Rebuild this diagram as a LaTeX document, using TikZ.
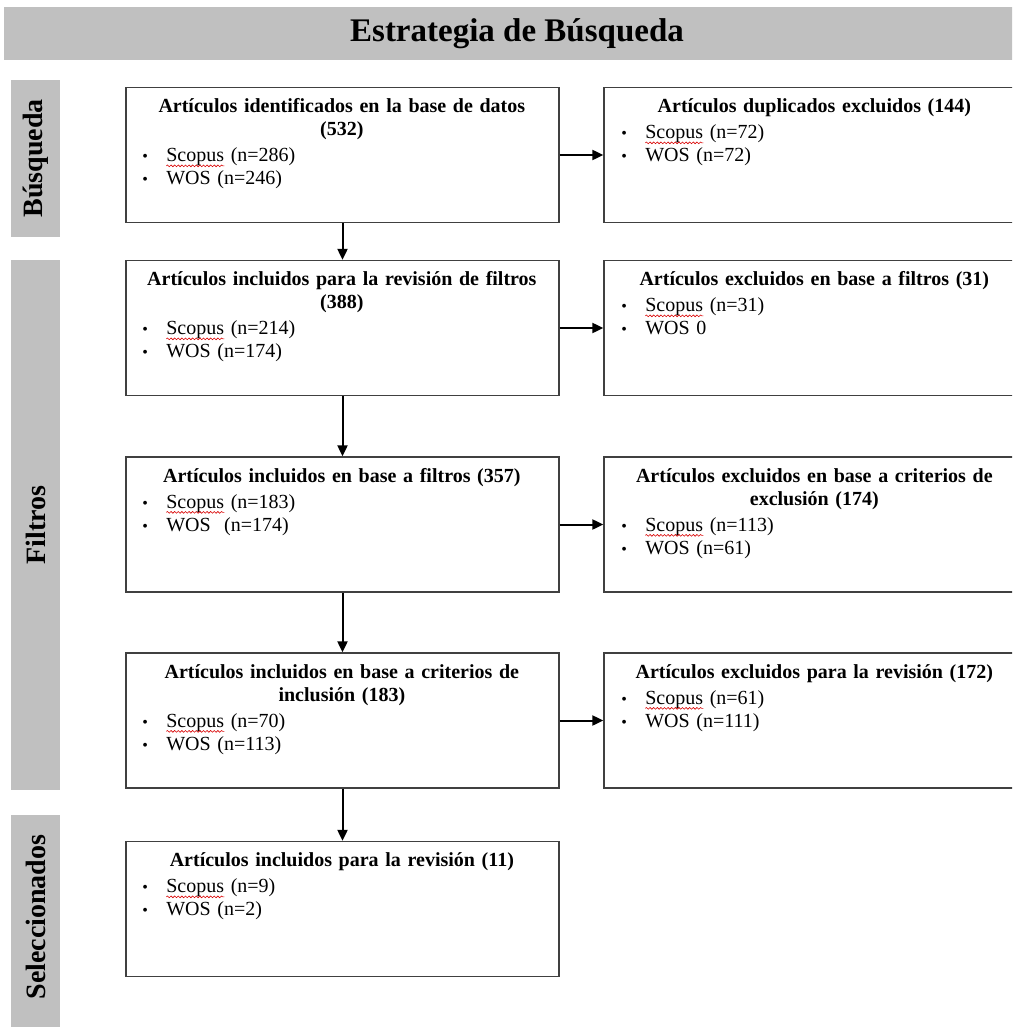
\documentclass[tikz,border=0pt]{standalone}
\usepackage{fontspec}
\setmainfont{Liberation Serif}
\usetikzlibrary{arrows.meta,decorations.pathmorphing}
\definecolor{bandgray}{HTML}{C0C0C0}
\definecolor{boxline}{HTML}{404040}
\setlength\parindent{0pt}
\setlength\parskip{0pt}
\tikzset{
  band/.style={fill=bandgray,draw=none,inner sep=0pt},
  leftbox/.style={draw=boxline,line width=1.3pt,minimum width=433pt,minimum height=135pt,inner sep=0pt},
  rightbox/.style={draw=boxline,line width=1.3pt,minimum width=422pt,minimum height=135pt,inner sep=0pt},
  ltext/.style={anchor=north west,inner sep=0pt,outer sep=0pt,text width=399pt,align=left,font=\fontsize{20}{23}\selectfont},
  rtext/.style={anchor=north west,inner sep=0pt,outer sep=0pt,text width=386pt,align=left,font=\fontsize{20}{23}\selectfont},
  sidelabel/.style={rotate=90,font=\fontsize{28}{32}\selectfont\bfseries},
  flow/.style={-{Triangle[length=11pt,width=10pt]},line width=2pt,black},
  squig/.style={red!85!black,line width=0.6pt,decorate,decoration={snake,amplitude=0.9pt,segment length=3.6pt}}
}
\newcommand\hdr[1]{\rule{0pt}{16pt}{\centering\bfseries #1\par}\vspace{3pt}}
\newcommand\itm[1]{\makebox[24pt][l]{\fontsize{16}{16}\selectfont\textbullet}#1\par}
\begin{document}
\begin{tikzpicture}[x=1pt,y=-1pt]
\useasboundingbox (0,0) rectangle (1012,1027);
\clip (0,0) rectangle (1012,1027);
% title band
\node[band,minimum width=1026pt,minimum height=53pt,anchor=north west] (titleband) at (4,7) {};
\node[font=\fontsize{33}{38}\selectfont\bfseries] (title) at (517,33.5) {Estrategia de Búsqueda};
% side bars
\node[band,minimum width=49pt,minimum height=157pt] (sb1) at (35.5,158.5) {};
\node[sidelabel] (sl1) at (sb1.center) {Búsqueda};
\node[band,minimum width=49pt,minimum height=530pt] (sb2) at (35.5,525) {};
\node[sidelabel] (sl2) at (sb2.center) {Filtros};
\node[band,minimum width=49pt,minimum height=215pt] (sb3) at (35.5,922.5) {};
\node[sidelabel] (sl3) at (35.5,917) {Seleccionados};
% left boxes
\node[leftbox] (b1) at (342.5,155) {};
\node[leftbox] (b2) at (342.5,328) {};
\node[leftbox] (b3) at (342.5,524.5) {};
\node[leftbox] (b4) at (342.5,720.5) {};
\node[leftbox] (b5) at (342.5,909) {};
% right boxes
\node[rightbox] (r1) at (815,155) {};
\node[rightbox] (r2) at (815,328) {};
\node[rightbox] (r3) at (815,524.5) {};
\node[rightbox] (r4) at (815,720.5) {};
% texts
\node[ltext] (t1) at ([xshift=17pt,yshift=-10pt]b1.north west) {\hdr{Artículos identificados en la base de datos\\(532)}\itm{Scopus (n=286)}\itm{WOS (n=246)}};
\node[ltext] (t2) at ([xshift=17pt,yshift=-10pt]b2.north west) {\hdr{Artículos incluidos para la revisión de filtros\\(388)}\itm{Scopus (n=214)}\itm{WOS (n=174)}};
\node[ltext] (t3) at ([xshift=17pt,yshift=-10pt]b3.north west) {\hdr{Artículos incluidos en base a filtros (357)}\itm{Scopus (n=183)}\itm{WOS~ (n=174)}};
\node[ltext] (t4) at ([xshift=17pt,yshift=-10pt]b4.north west) {\hdr{Artículos incluidos en base a criterios de\\inclusión (183)}\itm{Scopus (n=70)}\itm{WOS (n=113)}};
\node[ltext] (t5) at ([xshift=17pt,yshift=-10pt]b5.north west) {\hdr{Artículos incluidos para la revisión (11)}\itm{Scopus (n=9)}\itm{WOS (n=2)}};
\node[rtext] (u1) at ([xshift=18pt,yshift=-10pt]r1.north west) {\hdr{Artículos duplicados excluidos (144)}\itm{Scopus (n=72)}\itm{WOS (n=72)}};
\node[rtext] (u2) at ([xshift=18pt,yshift=-10pt]r2.north west) {\hdr{Artículos excluidos en base a filtros (31)}\itm{Scopus (n=31)}\itm{WOS 0}};
\node[rtext] (u3) at ([xshift=18pt,yshift=-10pt]r3.north west) {\hdr{Artículos excluidos en base a criterios de\\exclusión (174)}\itm{Scopus (n=113)}\itm{WOS (n=61)}};
\node[rtext] (u4) at ([xshift=18pt,yshift=-10pt]r4.north west) {\hdr{Artículos excluidos para la revisión (172)}\itm{Scopus (n=61)}\itm{WOS (n=111)}};
% spell-check squiggles under "Scopus"
\draw[squig] ([xshift=24pt,yshift=-69pt]t1.north west) -- ++(58,0);
\draw[squig] ([xshift=24pt,yshift=-69pt]t2.north west) -- ++(58,0);
\draw[squig] ([xshift=24pt,yshift=-46pt]t3.north west) -- ++(58,0);
\draw[squig] ([xshift=24pt,yshift=-69pt]t4.north west) -- ++(58,0);
\draw[squig] ([xshift=24pt,yshift=-46pt]t5.north west) -- ++(58,0);
\draw[squig] ([xshift=24pt,yshift=-46pt]u1.north west) -- ++(58,0);
\draw[squig] ([xshift=24pt,yshift=-46pt]u2.north west) -- ++(58,0);
\draw[squig] ([xshift=24pt,yshift=-69pt]u3.north west) -- ++(58,0);
\draw[squig] ([xshift=24pt,yshift=-46pt]u4.north west) -- ++(58,0);
% connectors
\draw[flow] (b1.south) -- (b2.north);
\draw[flow] (b2.south) -- (b3.north);
\draw[flow] (b3.south) -- (b4.north);
\draw[flow] (b4.south) -- (b5.north);
\draw[flow] (b1.east) -- (r1.west);
\draw[flow] (b2.east) -- (r2.west);
\draw[flow] (b3.east) -- (r3.west);
\draw[flow] (b4.east) -- (r4.west);
\end{tikzpicture}
\end{document}
